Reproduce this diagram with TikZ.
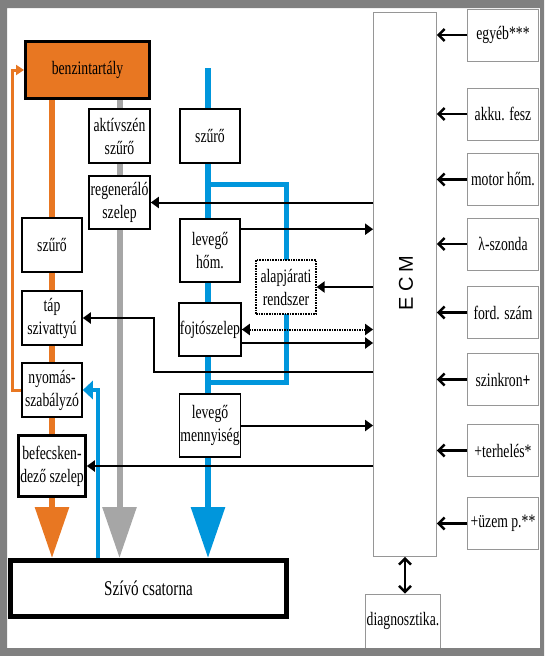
\documentclass[tikz,border=0pt]{standalone}
\usepackage{fontspec}
\setmainfont{Liberation Serif}[FakeStretch=0.72]
\newfontfamily\ecmfont{Liberation Sans}[LetterSpace=25]
\usetikzlibrary{arrows.meta,backgrounds}
\definecolor{benzin}{RGB}{232,119,34}
\definecolor{levego}{RGB}{0,150,220}
\definecolor{gozszurke}{RGB}{166,166,166}
\definecolor{keret}{RGB}{128,128,128}
\definecolor{szenzor}{RGB}{150,150,150}
\tikzset{
  unit/.style={draw, fill=white, line width=1.6pt, inner sep=1pt, align=center,
    minimum width=60pt, minimum height=54pt, font=\fontsize{19}{23}\selectfont},
  sensor/.style={draw=szenzor, fill=white, line width=.8pt, inner sep=1pt,
    minimum width=71pt, minimum height=52pt, font=\fontsize{19}{23}\selectfont},
  sig/.style={line width=2pt, -{Triangle[length=8pt,width=11pt]}},
  sensig/.style={line width=2.4pt, -{Straight Barb[length=6pt,width=12pt]}},
  pipe/.style={line width=6pt, -{Triangle[length=51pt,width=33pt]}},
}
\begin{document}
\begin{tikzpicture}[x=1pt,y=-1pt]
\useasboundingbox (0,0) rectangle (544,656);
% fuel side
\node[unit, fill=benzin, line width=3pt, minimum width=124pt, minimum height=57pt] (tank) at (87.5,70) {benzintartály};
\node[unit, minimum width=61pt] (aktiv) at (119.5,136) {aktívszén\\szűrő};
\node[unit, minimum width=61pt, minimum height=53pt] (regen) at (119.5,202.5) {regeneráló\\szelep};
\node[unit] (szuroL) at (52,245) {szűrő};
\node[unit] (tap) at (52,318) {táp\\szivattyú};
\node[unit] (nyomas) at (52,390) {nyomás-\\szabályzó};
\node[unit, line width=2.6pt, minimum width=67pt, minimum height=61pt] (befecs) at (52,466) {befecsken-\\dező szelep};
% air side
\node[unit] (szuroB) at (210,136) {szűrő};
\node[unit, minimum height=63pt] (levhom) at (210,250.5) {levegő\\hőm.};
\node[unit, minimum height=53pt] (fojto) at (210,329.5) {fojtószelep};
\node[unit, minimum height=63pt] (levmenny) at (210,425.5) {levegő\\mennyiség};
\node[unit, densely dotted, line width=1.2pt] (alap) at (286,287) {alapjárati\\rendszer};
\node[unit, line width=5pt, minimum width=276pt, minimum height=56pt, font=\fontsize{21}{25}\selectfont] (szivo) at (148.5,588.5) {Szívó csatorna};
% control unit
\node[sensor, minimum width=63pt, minimum height=544pt] (ecm) at (405,284.5) {};
\node[rotate=90, font=\ecmfont\fontsize{20}{20}\selectfont] (ecmtxt) at (406,283) {ECM};
\node[sensor, minimum height=54pt] (diag) at (403,621) {diagnosztika.};
\foreach \y/\nev/\szoveg in {35/egyeb/egyéb***, 114/akku/akku. fesz, 179.5/motor/motor hőm.,
    244/lambda/λ-szonda, 312.5/ford/ford. szám, 379.5/szinkron/szinkron\textbf{+},
    450.5/terheles/+terhelés*, 523.5/uzem/+üzem p.**}{
  \node[sensor] (\nev) at (503,\y) {\szoveg};
  \draw[sensig] (\nev.west) -- (\nev.west -| ecm.east);
}
\draw[sensig, {Straight Barb[length=6pt,width=12pt]}-{Straight Barb[length=6pt,width=12pt]}] (ecm.south) -- (ecm.south |- diag.north);
% pipes
\coordinate (bluein) at (208,68);
\coordinate (byA) at (208,184.5);
\coordinate (byB) at (208,382);
\coordinate (bret) at (98,500);
\begin{pgfonlayer}{background}
\draw[pipe, benzin] (szuroL |- tank.south) -- (szuroL |- szivo.north);
\draw[pipe, gozszurke] (aktiv |- tank.south) -- (aktiv |- szivo.north);
\draw[pipe, levego] (bluein) -- (bluein |- szivo.north);
\draw[levego, line width=5pt] (byA) -| (alap |- byB) -- (byB);
\draw[levego, line width=4pt, -{Triangle[length=10pt,width=18pt]}] (bret |- szivo.north) |- (nyomas.east);
\draw[benzin, line width=3pt, -{Triangle[length=8pt,width=10pt]}] (nyomas.west) -- ++(-9,0) |- (tank.west);
\end{pgfonlayer}
% signals
\draw[sig] (ecm.west |- regen.east) -- (regen.east);
\draw[sig] ([yshift=-11pt]levhom.north east) coordinate (lh) -- (lh -| ecm.west);
\draw[sig] (ecm.west |- alap.east) -- (alap.east);
\draw[line width=2pt, dash pattern=on 1.5pt off 1pt, {Triangle[length=8pt,width=11pt]}-{Triangle[length=8pt,width=11pt]}] (fojto.east) -- (fojto.east -| ecm.west);
\draw[sig] ([yshift=-13.5pt]fojto.east) coordinate (fj) -- (fj -| ecm.west);
\draw[sig] ([yshift=-87.5pt]ecm.west) -- ++(-219,0) |- (tap.east);
\draw[sig] (levmenny.east) -- (levmenny.east -| ecm.west);
\draw[sig] (ecm.west |- befecs.east) -- (befecs.east);
% frame
\fill[keret, even odd rule] (0,0) rectangle (544,656) (7,8) rectangle (540,648);
\end{tikzpicture}
\end{document}
